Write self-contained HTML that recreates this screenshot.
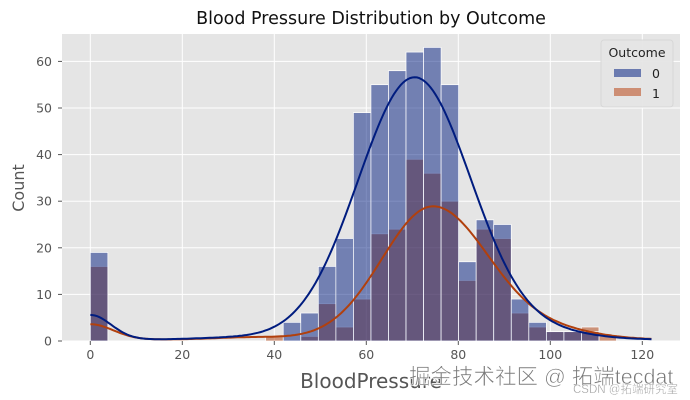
<!DOCTYPE html>
<html><head><meta charset="utf-8"><style>
html,body{margin:0;padding:0;background:#fff;}
svg{display:block;font-family:"DejaVu Sans","Liberation Sans",sans-serif;}
</style></head><body>
<svg id="s" width="690" height="400" xmlns="http://www.w3.org/2000/svg">
<rect x="62" y="34" width="618" height="307" fill="#e5e5e5"/>
<g id="grid" stroke="#fff" stroke-width="1"></g>
<g id="bars"></g>
<g id="lines" fill="none" stroke-width="2"></g>
<g id="ticks" font-size="12.5" fill="#555"></g>
<text x="371" y="24" font-size="17.5" text-anchor="middle" fill="#111">Blood Pressure Distribution by Outcome</text>
<text x="371" y="388" font-size="20" text-anchor="middle" fill="#555">BloodPressure</text>
<text transform="translate(24,188) rotate(-90)" font-size="16" text-anchor="middle" fill="#555">Count</text>
<rect x="601" y="40" width="72" height="67" rx="3" fill="#e5e5e5" stroke="#d6d6d6" opacity="0.9"/>
<text x="637" y="57" font-size="12.5" text-anchor="middle" fill="#222">Outcome</text>
<rect x="614" y="69" width="27" height="8" fill="#6b7bb0"/>
<text x="652" y="78" font-size="12.5" fill="#222">0</text>
<rect x="614" y="88" width="27" height="8" fill="#cd8e74"/>
<text x="652" y="98" font-size="12.5" fill="#222">1</text>
<text x="409" y="384" font-size="21.5" fill="#777" stroke="#fff" stroke-width="0.6" font-family="'Liberation Sans','Noto Sans CJK SC',sans-serif">掘金技术社区 @ 拓端tecdat</text>
<text x="573" y="393" font-size="11.5" fill="#999" stroke="#fff" stroke-width="0.3" font-family="'Liberation Sans','Noto Sans CJK SC',sans-serif">CSDN @拓端研究室</text>
</svg>
<script>
var NS="http://www.w3.org/2000/svg";
function el(p,t,a){var e=document.createElementNS(NS,t);for(var k in a)e.setAttribute(k,a[k]);document.getElementById(p).appendChild(e);return e;}
function X(v){return 90.3+v*4.6;}
function Y(v){return 341-v*4.66;}
[0,20,40,60,80,100,120].forEach(function(v){el("grid","line",{x1:X(v),x2:X(v),y1:34,y2:341});
 var t=el("ticks","text",{x:X(v),y:359,"text-anchor":"middle"});t.textContent=v;
 el("ticks","line",{x1:X(v),x2:X(v),y1:341,y2:345,stroke:"#555"});});
[0,10,20,30,40,50,60].forEach(function(v){el("grid","line",{x1:62,x2:680,y1:Y(v),y2:Y(v)});
 var t=el("ticks","text",{x:52,y:Y(v)+4.5,"text-anchor":"end"});t.textContent=v;
 el("ticks","line",{x1:58,x2:62,y1:Y(v),y2:Y(v),stroke:"#555"});});
var b={0:19,11:4,12:6,13:16,14:22,15:49,16:55,17:58,18:62,19:63,20:55,21:17,22:26,23:25,24:9,25:4,26:2,27:2,28:2};
var o={0:16,10:1,12:1,13:8,14:3,15:9,16:23,17:24,18:39,19:36,20:30,21:13,22:24,23:22,24:6,25:3,26:2,27:2,28:3,29:1};
var w=17.54;
for(var i=0;i<32;i++){var x=90.3+w*i;
 if(o[i])el("bars","rect",{x:x,y:Y(o[i]),width:w,height:o[i]*4.66,fill:"#b1400d","fill-opacity":0.5,stroke:"#fff","stroke-width":0.7});}
for(var i=0;i<32;i++){var x=90.3+w*i;
 if(b[i])el("bars","rect",{x:x,y:Y(b[i]),width:w,height:b[i]*4.66,fill:"#001c7f","fill-opacity":0.5,stroke:"#fff","stroke-width":0.7});}
function g(x,m,s){return Math.exp(-(x-m)*(x-m)/(2*s*s));}
function fb(x){return 5.3*g(x,0,4.5)+0.3+0.35*g(x,30,8)+56.3*g(x,70.5,12.3)+1.0*g(x,102,9)*(x>70?1:0);}
function fo(x){var s=x<74.5?11.1:12.3;return 3.3*g(x,0,5)+0.3+0.5*g(x,35,8)+28.6*g(x,74.5,s)+1.3*g(x,103,9)*(x>75?1:0);}
function path(f){var d="";for(var x=0;x<=122;x+=0.5){d+=(x?"L":"M")+X(x).toFixed(1)+","+Y(f(x)).toFixed(1);}return d;}
el("lines","path",{d:path(fo),stroke:"#b1400d"});
el("lines","path",{d:path(fb),stroke:"#001c7f"});
</script>
</body></html>
